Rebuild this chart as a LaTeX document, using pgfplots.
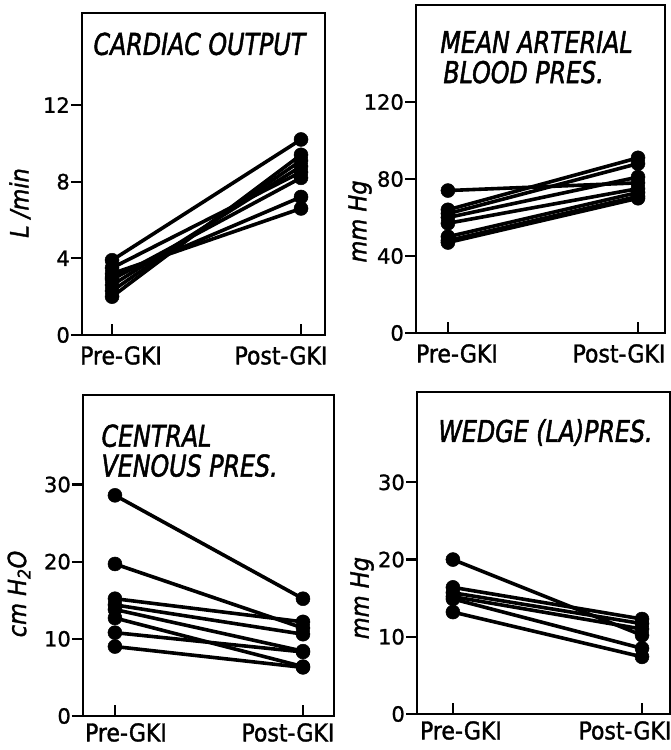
\documentclass[border=0pt]{standalone}
\usepackage{fontspec}
\usepackage{pgfplots}
\pgfplotsset{compat=1.18}
\setmainfont{DejaVu Sans}
\newfontfamily\numface{DejaVu Sans}[FakeBold=1.2]
\newfontfamily\labface{DejaVu Sans Condensed}[FakeBold=1.4]
\newfontfamily\titface{DejaVu Sans Condensed}[FakeBold=1.6, FakeStretch=0.88]
\newcommand\numfnt{\numface\fontsize{21bp}{24bp}\selectfont}
\newcommand\labfnt{\labface\fontsize{24.5bp}{28bp}\selectfont}
\newcommand\titfnt{\titface\itshape\fontsize{30bp}{32bp}\selectfont}
\newcommand\yfnt{\labface\itshape\fontsize{25bp}{28bp}\selectfont}

\pgfplotsset{
  panel/.style={
    scale only axis, anchor=south west,
    axis line style={line width=2.3bp},
    tick style={line width=2.3bp, black},
    major tick length=11bp,
    xtick align=inside, ytick align=outside,
    xtick pos=bottom, ytick pos=left,
    xtick={0}, xticklabels={Pre-GKI},
    extra x ticks={1}, extra x tick labels={Post-GKI},
    ymin=0,
    /pgf/number format/assume math mode=true,
    yticklabel style={font=\numfnt, inner sep=1bp},
    xticklabel style={font=\labfnt, inner sep=1bp},
    ylabel style={font=\yfnt, anchor=center},
    every axis plot post/.style={black, solid, line width=3.6bp, mark=*, mark size=7bp,
      mark options={solid, draw=black, fill=black, line width=0.5bp}},
  }
}

\begin{document}
\begin{tikzpicture}
\useasboundingbox (0,0) rectangle (671bp,750bp);

% cardiac output
\begin{axis}[panel, at={(82bp,415bp)}, width=243bp, height=322bp,
  xmin=-0.159, xmax=1.127, ymax=16.8, ytick={0,4,8,12},
  xticklabel style={xshift=9bp, yshift=-10bp},
  extra x tick style={xticklabel style={xshift=-29bp}},
  ylabel={L /min}, ylabel style={at={(rel axis cs:-0.255,0.41)}}]
\addplot coordinates {(0,3.9) (1,10.2)};
\addplot coordinates {(0,2.0) (1,9.4)};
\addplot coordinates {(0,2.3) (1,9.1)};
\addplot coordinates {(0,2.6) (1,8.8)};
\addplot coordinates {(0,3.5) (1,8.5)};
\addplot coordinates {(0,2.9) (1,8.2)};
\addplot coordinates {(0,3.0) (1,7.2)};
\addplot coordinates {(0,3.2) (1,6.6)};
\node[font=\titfnt, anchor=base west] at (rel axis cs:0.033,0.87) {CARDIAC OUTPUT};
\end{axis}

% mean arterial blood pressure
\begin{axis}[panel, at={(416bp,417bp)}, width=249bp, height=328bp,
  xmin=-0.168, xmax=1.142, ymax=170.4, ytick={0,40,80,120},
  xticklabel style={xshift=9bp, yshift=-10bp},
  extra x tick style={xticklabel style={xshift=-28bp}},
  ylabel={mm Hg}, ylabel style={at={(rel axis cs:-0.225,0.34)}}]
\addplot coordinates {(0,74) (1,78)};
\addplot coordinates {(0,64) (1,91)};
\addplot coordinates {(0,62) (1,88)};
\addplot coordinates {(0,60) (1,81)};
\addplot coordinates {(0,57) (1,75)};
\addplot coordinates {(0,50) (1,73)};
\addplot coordinates {(0,48) (1,71)};
\addplot coordinates {(0,47) (1,70)};
\node[font=\titfnt, anchor=base west] at (rel axis cs:0.084,0.854) {MEAN ARTERIAL};
\node[font=\titfnt, anchor=base west] at (rel axis cs:0.096,0.762) {BLOOD PRES.};
\end{axis}

% central venous pressure
\begin{axis}[panel, at={(83bp,34bp)}, width=251bp, height=321bp,
  xmin=-0.170, xmax=1.165, ymax=41.6, ytick={0,10,20,30},
  xticklabel style={xshift=11bp, yshift=-6bp},
  extra x tick style={xticklabel style={xshift=-26bp}},
  ylabel={cm H\textsubscript{2}O}, ylabel style={at={(rel axis cs:-0.255,0.38)}}]
\addplot coordinates {(0,28.6) (1,15.2)};
\addplot coordinates {(0,19.7) (1,11.4)};
\addplot coordinates {(0,15.2) (1,12.2)};
\addplot coordinates {(0,14.4) (1,10.6)};
\addplot coordinates {(0,13.8) (1,8.4)};
\addplot coordinates {(0,12.7) (1,6.4)};
\addplot coordinates {(0,10.8) (1,8.3)};
\addplot coordinates {(0,9.0) (1,6.3)};
\node[font=\titfnt, anchor=base west] at (rel axis cs:0.06,0.839) {CENTRAL};
\node[font=\titfnt, anchor=base west] at (rel axis cs:0.06,0.746) {VENOUS PRES.};
\end{axis}

% wedge pressure
\begin{axis}[panel, at={(417bp,36bp)}, width=253bp, height=322bp,
  xmin=-0.19, xmax=1.148, ymax=41.7, ytick={0,10,20,30},
  xticklabel style={xshift=8bp, yshift=-6bp},
  extra x tick style={xticklabel style={xshift=-25bp}},
  ylabel={mm Hg}, ylabel style={at={(rel axis cs:-0.217,0.36)}}]
\addplot coordinates {(0,20.0) (1,10.2)};
\addplot coordinates {(0,16.4) (1,12.3)};
\addplot coordinates {(0,15.7) (1,11.7)};
\addplot coordinates {(0,15.2) (1,11.0)};
\addplot coordinates {(0,14.9) (1,8.5)};
\addplot coordinates {(0,13.2) (1,7.4)};
\node[font=\titfnt, anchor=base west] at (rel axis cs:0.071,0.845) {WEDGE (LA)PRES.};
\end{axis}
\end{tikzpicture}
\end{document}
